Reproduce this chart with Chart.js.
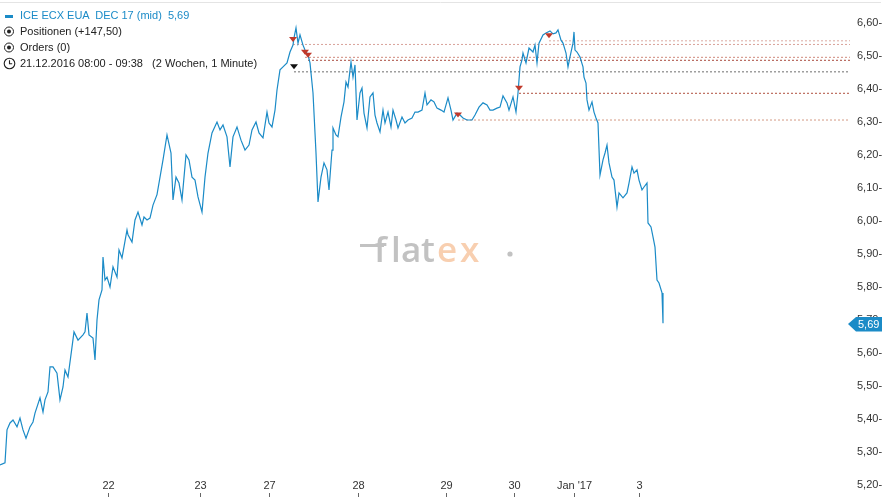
<!DOCTYPE html>
<html>
<head>
<meta charset="utf-8">
<script src="https://cdn.jsdelivr.net/npm/chart.js@4.4.1/dist/chart.umd.min.js"></script>
<style>
  html, body { margin: 0; padding: 0; background: #fff; }
  #wrap { position: relative; width: 889px; height: 504px; overflow: hidden; }
  #head { position: absolute; left: 0; top: 7px; font: 11px 'Liberation Sans', Arial, sans-serif; color: #222; }
  #head .row { position: relative; height: 16px; line-height: 16px; padding-left: 20px; white-space: pre; }
  #head svg { position: absolute; left: 3px; top: 2px; }
  #head .main { color: #1b8bc7; }
</style>
</head>
<body>
<div id="wrap">
  <canvas id="chart"></canvas>
  <div id="head">
    <div class="row main"><svg width="12" height="12"><rect x="2" y="6" width="8" height="3" fill="#1b8bc7"/></svg>ICE ECX EUA  DEC 17 (mid)  5,69</div>
    <div class="row"><svg width="12" height="12"><circle cx="6" cy="6.5" r="4.5" fill="none" stroke="#222" stroke-width="1"/><circle cx="6" cy="6.5" r="2" fill="#222"/></svg>Positionen (+147,50)</div>
    <div class="row"><svg width="12" height="12"><circle cx="6" cy="6.5" r="4.5" fill="none" stroke="#222" stroke-width="1"/><circle cx="6" cy="6.5" r="2" fill="#222"/></svg>Orders (0)</div>
    <div class="row"><svg width="13" height="13"><circle cx="6.5" cy="6.5" r="5.3" fill="none" stroke="#222" stroke-width="1.1"/><path d="M6.5 3.2 V6.7 H9.2" fill="none" stroke="#222" stroke-width="1.1"/></svg>21.12.2016 08:00 - 09:38   (2 Wochen, 1 Minute)</div>
  </div>
</div>
<script>
// trading time in session hours since 21.12. 08:00 (gaps compressed)
const times = [0,0.5,0.7,1.0,1.3,1.7,2.0,2.3,2.6,3.0,3.3,3.5,4.0,4.3,4.5,4.8,5.0,5.3,5.7,6.0,6.3,6.5,6.8,7.2,7.4,7.8,8.3,8.5,8.7,8.9,9.3,9.5,9.7,9.9,10.2,10.3,10.5,10.7,11.0,11.3,11.7,11.9,12.2,12.7,12.8,13.2,13.5,13.8,14.2,14.4,14.7,15.0,15.3,15.7,16.3,16.7,17.1,17.3,17.6,17.9,18.2,18.6,18.9,19.2,19.5,19.8,20.2,20.5,20.8,21.2,21.7,22.0,22.3,22.7,23.0,23.3,23.7,24.1,24.5,24.9,25.2,25.6,25.9,26.3,26.7,26.9,27.2,27.5,27.7,28.0,28.3,28.7,29.0,29.3,29.4,29.6,29.8,30.0,30.3,30.5,30.8,31.0,31.3,31.6,31.8,32.1,32.4,32.7,32.9,33.2,33.3,33.6,33.8,34.1,34.4,34.6,34.8,35.1,35.3,35.5,35.7,36.0,36.2,36.4,36.7,37.0,37.3,37.5,37.7,38.0,38.3,38.5,38.8,39.1,39.3,39.6,39.8,40.2,40.5,40.8,41.2,41.5,41.8,42.2,42.5,42.7,43.1,43.4,43.7,44.1,44.4,44.8,45.1,45.3,45.7,46.0,46.3,46.7,47.2,47.5,47.9,48.3,48.7,49.0,49.3,49.7,50.0,50.3,50.7,50.9,51.3,51.6,51.8,52.0,52.2,52.3,52.6,52.9,53.3,53.5,53.7,53.9,54.3,54.6,55.0,55.3,55.6,55.8,56.1,56.3,56.6,56.8,57.0,57.3,57.4,57.5,57.7,58.0,58.3,58.4,58.6,58.7,58.9,59.2,59.4,59.6,59.8,60.0,60.3,60.5,60.7,60.9,61.2,61.4,61.7,61.9,62.3,62.7,62.9,63.2,63.4,63.7,63.9,64.2,64.4,64.7,64.8,65.1,65.3,65.5,65.7,65.9,66.2,66.3];
const prices = [5.261,5.267,5.367,5.388,5.397,5.376,5.403,5.367,5.342,5.376,5.391,5.418,5.464,5.421,5.458,5.482,5.558,5.558,5.539,5.458,5.497,5.548,5.527,5.618,5.664,5.639,5.655,5.664,5.721,5.655,5.645,5.579,5.700,5.761,5.791,5.891,5.821,5.830,5.800,5.861,5.830,5.912,5.888,5.973,5.958,5.936,6.003,6.027,5.988,6.012,6.003,6.009,6.048,6.080,6.185,6.261,6.206,6.064,6.133,6.115,6.064,6.200,6.185,6.133,6.124,6.073,6.027,6.133,6.206,6.267,6.300,6.276,6.291,6.255,6.164,6.255,6.285,6.245,6.215,6.230,6.276,6.300,6.267,6.252,6.330,6.297,6.285,6.336,6.397,6.458,6.467,6.479,6.512,6.533,6.555,6.585,6.539,6.564,6.533,6.518,6.503,6.479,6.388,6.206,6.058,6.133,6.176,6.155,6.094,6.215,6.282,6.261,6.255,6.315,6.361,6.421,6.406,6.482,6.436,6.473,6.306,6.388,6.403,6.327,6.282,6.376,6.388,6.321,6.297,6.270,6.336,6.297,6.330,6.285,6.336,6.306,6.282,6.315,6.297,6.306,6.312,6.330,6.330,6.336,6.388,6.352,6.367,6.361,6.342,6.336,6.330,6.373,6.336,6.306,6.327,6.321,6.312,6.306,6.306,6.321,6.345,6.358,6.352,6.336,6.336,6.342,6.345,6.379,6.358,6.336,6.376,6.330,6.388,6.467,6.488,6.509,6.479,6.524,6.512,6.533,6.479,6.539,6.564,6.570,6.576,6.567,6.570,6.579,6.548,6.539,6.509,6.467,6.497,6.539,6.573,6.518,6.512,6.497,6.467,6.436,6.418,6.367,6.336,6.361,6.330,6.312,6.297,6.139,6.185,6.206,6.230,6.176,6.133,6.124,6.042,6.085,6.070,6.085,6.115,6.164,6.145,6.155,6.124,6.094,6.103,6.115,5.994,5.982,5.952,5.921,5.821,5.812,5.782,5.690];

// day boundaries on the time axis
const dayLabels = ['22', '23', '27', '28', '29', '30', "Jan '17", '3'];
const dayTimes = [10.77, 19.95, 26.93, 35.83, 44.62, 51.42, 57.43, 63.89];

// price axis ticks
const yTicks = [5.2, 5.3, 5.4, 5.5, 5.6, 5.7, 5.8, 5.9, 6.0, 6.1, 6.2, 6.3, 6.4, 6.5, 6.6];

// trades: marker time, price level, kind
const tradeTimes = [29.3, 30.5, 30.8, 29.4, 45.8, 51.9, 54.9];
const tradeLevels = [6.535, 6.496, 6.487, 6.452, 6.306, 6.387, 6.546];
const tradeKinds = ['sell', 'sell', 'sell', 'order', 'sell', 'sell', 'sell'];
const levelColors = ['#d9a29a', '#d08a7c', '#a8483c', '#6e6e6e', '#d49a84', '#b0503e', '#dcaaa2'];

const X_MAX = 85.0, Y_MIN = 5.1424, Y_MAX = 6.6697;
const LINE = '#1b8bc7';
const FONT = "11px 'Liberation Sans', Arial, sans-serif";

const fmt = v => v.toFixed(2).replace('.', ',');

const levelSets = tradeLevels.map((lv, i) => ({
  data: [{ x: tradeTimes[i], y: lv }, { x: X_MAX, y: lv }],
  borderColor: levelColors[i],
  borderWidth: 1,
  borderDash: [2, 2],
  pointRadius: 0,
  order: 2
}));

const overlay = {
  id: 'overlay',
  beforeDraw(chart) {
    const ctx = chart.ctx;
    ctx.save();
    ctx.strokeStyle = '#e4e4e4';
    ctx.lineWidth = 1;
    ctx.beginPath(); ctx.moveTo(0, 2.5); ctx.lineTo(881, 2.5); ctx.stroke();

    // watermark
    ctx.strokeStyle = '#c2c2c2';
    ctx.lineWidth = 3;
    ctx.beginPath(); ctx.moveTo(360, 245.5); ctx.lineTo(384, 245.5); ctx.stroke();
    ctx.font = "600 35px 'Open Sans', sans-serif";
    ctx.textBaseline = 'alphabetic';
    ctx.textAlign = 'left';
    ctx.fillStyle = '#c2c2c2';
    [['f', 374], ['l', 391], ['a', 401], ['t', 421]].forEach(([c, x]) => ctx.fillText(c, x, 262));
    ctx.fillStyle = '#f8cfb0';
    [['e', 437], ['x', 460]].forEach(([c, x]) => ctx.fillText(c, x, 262));
    ctx.fillStyle = '#c2c2c2';
    ctx.beginPath(); ctx.arc(510, 254, 2.6, 0, Math.PI * 2); ctx.fill();
    ctx.restore();
  },
  afterDraw(chart) {
    const ctx = chart.ctx, xs = chart.scales.x, ys = chart.scales.y;
    ctx.save();
    // day axis
    ctx.font = FONT;
    ctx.fillStyle = '#333';
    ctx.textAlign = 'center';
    ctx.textBaseline = 'middle';
    ctx.strokeStyle = '#666';
    ctx.lineWidth = 1;
    dayTimes.forEach((t, i) => {
      const x = Math.round(xs.getPixelForValue(t)) + 0.5;
      ctx.fillText(dayLabels[i], x, 486);
      ctx.beginPath(); ctx.moveTo(x, 493); ctx.lineTo(x, 497); ctx.stroke();
    });
    // trade markers
    tradeTimes.forEach((t, i) => {
      const x = xs.getPixelForValue(t), y = ys.getPixelForValue(tradeLevels[i]) - 5;
      ctx.fillStyle = tradeKinds[i] === 'sell' ? '#c0392b' : '#111';
      ctx.beginPath();
      ctx.moveTo(x - 4, y - 2.5); ctx.lineTo(x + 4, y - 2.5); ctx.lineTo(x, y + 2.5);
      ctx.closePath(); ctx.fill();
    });
    // last price badge
    const last = prices[prices.length - 1];
    const by = Math.round(ys.getPixelForValue(last)) + 1;
    const bl = chart.chartArea.right - 2;
    ctx.fillStyle = '#1b8bc7';
    ctx.beginPath();
    ctx.moveTo(bl, by); ctx.lineTo(bl + 8, by - 7); ctx.lineTo(bl + 34, by - 7);
    ctx.lineTo(bl + 34, by + 7.5); ctx.lineTo(bl + 8, by + 7.5); ctx.closePath(); ctx.fill();
    ctx.fillStyle = '#fff';
    ctx.textAlign = 'left';
    ctx.fillText(fmt(last), bl + 10, by + 0.5);
    ctx.restore();
  }
};

new Chart(document.getElementById('chart'), {
  type: 'line',
  data: {
    datasets: [{
      data: times.map((t, i) => ({ x: t, y: prices[i] })),
      borderColor: LINE,
      borderWidth: 1.2,
      pointRadius: 0,
      tension: 0,
      order: 1
    }, ...levelSets]
  },
  options: {
    responsive: true,
    maintainAspectRatio: false,
    animation: false,
    layout: { padding: 0, autoPadding: false },
    plugins: { legend: { display: false }, tooltip: { enabled: false } },
    scales: {
      x: { type: 'linear', min: 0, max: X_MAX, display: false },
      y: {
        position: 'right',
        min: Y_MIN, max: Y_MAX,
        afterBuildTicks: s => { s.ticks = yTicks.map(v => ({ value: v })); },
        afterFit: s => { s.width = 39; s.paddingTop = 0; s.paddingBottom = 0; },
        grid: { display: false, drawTicks: false },
        border: { display: false },
        ticks: {
          padding: 7,
          color: '#333',
          font: { family: "'Liberation Sans', Arial, sans-serif", size: 11 },
          callback: v => fmt(v) + '-'
        }
      }
    }
  },
  plugins: [overlay]
});
</script>
</body>
</html>
